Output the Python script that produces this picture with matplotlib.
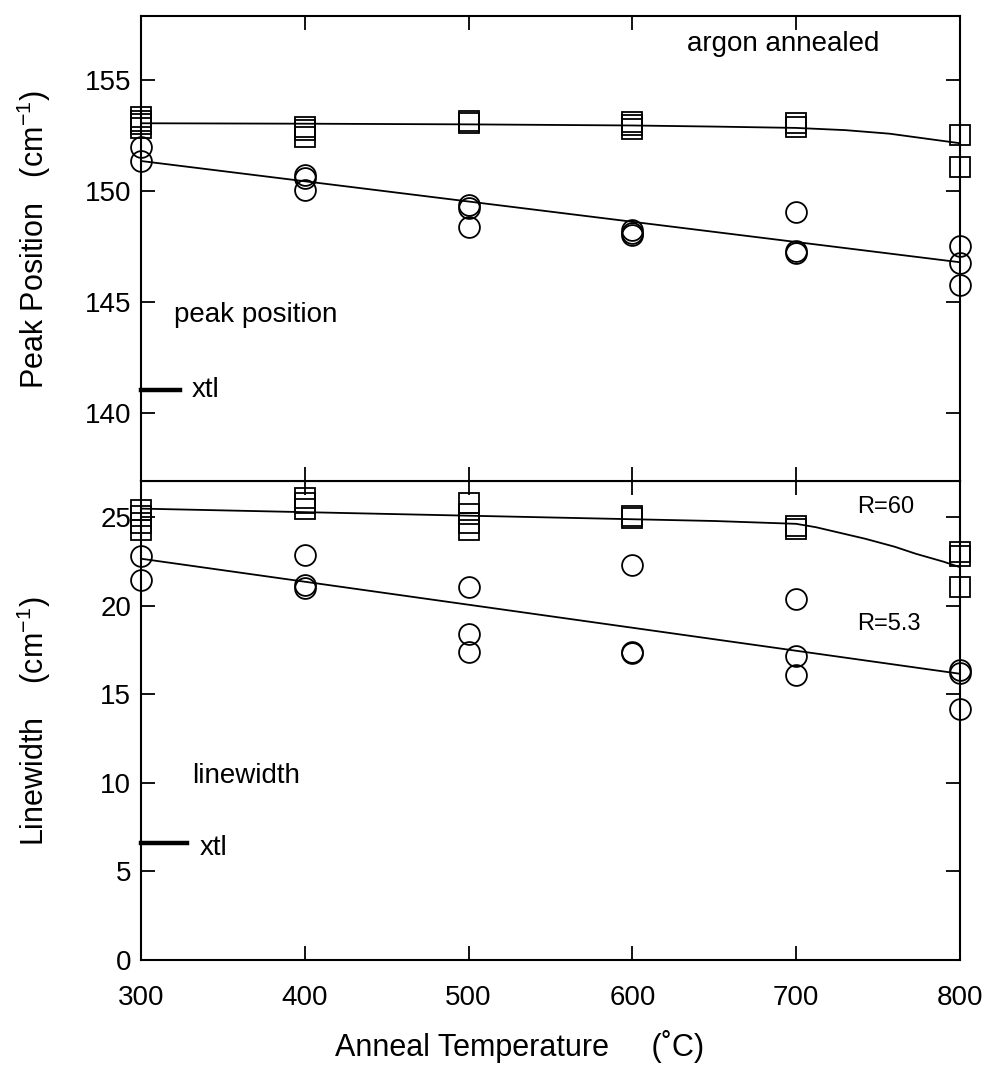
import matplotlib
matplotlib.use("Agg")
import matplotlib.pyplot as plt

plt.rcParams['font.family'] = ['Liberation Sans', 'DejaVu Sans']

# ---- data ----
temps = [300, 400, 500, 600, 700, 800]

# top panel: peak position (cm^-1)
peak_sq = {
    300: [153.35, 153.15, 153.0, 152.85],
    400: [152.9, 152.75, 152.45],
    500: [153.15, 153.05],
    600: [153.1, 152.95, 152.8],
    700: [153.05, 152.9],
    800: [152.52, 151.09],
}
peak_ci = {
    300: [151.98, 151.35],
    400: [150.7, 150.6, 150.05],
    500: [149.35, 149.25, 148.4],
    600: [148.25, 148.1, 148.0],
    700: [149.05, 147.3, 147.2],
    800: [147.52, 146.74, 145.77],
}
fit_peak_sq_x = [300, 400, 500, 600, 650, 700, 730, 757, 773, 793, 800]
fit_peak_sq_y = [153.05, 153.03, 153.0, 152.95, 152.9, 152.84, 152.74, 152.58, 152.42, 152.22, 152.15]
fit_peak_ci_x = [300, 800]
fit_peak_ci_y = [151.35, 146.79]

# bottom panel: linewidth (cm^-1)
lw_sq = {
    300: [25.43, 25.1, 24.68, 24.3],
    400: [26.1, 25.8, 25.45],
    500: [25.8, 25.2, 24.7, 24.3],
    600: [25.1, 24.95],
    700: [24.5, 24.35],
    800: [23.05, 22.85, 21.05],
}
lw_ci = {
    300: [22.85, 21.44],
    400: [22.9, 21.2, 21.0],
    500: [21.1, 18.4, 17.4],
    600: [22.3, 17.4, 17.35],
    700: [20.4, 17.2, 16.1],
    800: [16.4, 16.2, 14.2],
}
fit_lw_sq_x = [300, 400, 500, 600, 650, 700, 712, 742, 760, 773, 790, 800]
fit_lw_sq_y = [25.5, 25.3, 25.1, 24.9, 24.8, 24.64, 24.45, 23.8, 23.35, 22.95, 22.5, 22.19]
fit_lw_ci_x = [300, 800]
fit_lw_ci_y = [22.67, 16.17]

xtl_peak = 141.05
xtl_lw = 6.6
xticks = [300, 400, 500, 600, 700, 800]
peak_ticks = [140, 145, 150, 155]
lw_ticks = [0, 5, 10, 15, 20, 25]

# ---- figure ----
W, H = 991, 1079
fig = plt.figure(figsize=(W / 100, H / 100), dpi=100)
left = 141 / W
width = (960 - 141) / W
ax_bot = fig.add_axes([left, (H - 960) / H, width, (960 - 481) / H])
ax_top = fig.add_axes([left, (H - 481) / H, width, (481 - 16) / H], sharex=ax_bot)

ms = 15.0
mew = 1.3
TICK_FS = 20
LABEL_FS = 22
ANN_FS = 20


def scatter_groups(ax, groups, marker):
    for t, vals in groups.items():
        ax.plot([t] * len(vals), vals, linestyle='none', marker=marker, ms=ms,
                mfc='none', mec='black', mew=mew, clip_on=False, zorder=3)


for ax in (ax_top, ax_bot):
    ax.set_xlim(300, 800)
    ax.set_xticks(xticks)
    ax.tick_params(axis='both', which='both', direction='in', length=10, width=1.3,
                   top=True, right=True, labelsize=TICK_FS)
    ax.tick_params(axis='y', pad=7)
    for s in ax.spines.values():
        s.set_linewidth(1.5)

# top panel
ax_top.set_ylim(136.94, 157.88)
ax_top.set_yticks(peak_ticks)
scatter_groups(ax_top, peak_sq, 's')
scatter_groups(ax_top, peak_ci, 'o')
ax_top.plot(fit_peak_sq_x, fit_peak_sq_y, color='black', lw=1.3, zorder=2)
ax_top.plot(fit_peak_ci_x, fit_peak_ci_y, color='black', lw=1.3, zorder=2)
ax_top.plot([300, 324], [xtl_peak, xtl_peak], color='black', lw=3.2, clip_on=False)
ax_top.text(331, xtl_peak, 'xtl', fontsize=ANN_FS, va='center', ha='left')
ax_top.text(320, 144.4, 'peak position', fontsize=ANN_FS, va='center', ha='left')
ax_top.text(692, 156.6, 'argon annealed', fontsize=ANN_FS, va='center', ha='center')
ax_top.tick_params(axis='x', labelbottom=False)

# bottom panel
ax_bot.set_ylim(0, 27.06)
ax_bot.set_yticks(lw_ticks)
scatter_groups(ax_bot, lw_sq, 's')
scatter_groups(ax_bot, lw_ci, 'o')
ax_bot.plot(fit_lw_sq_x, fit_lw_sq_y, color='black', lw=1.3, zorder=2)
ax_bot.plot(fit_lw_ci_x, fit_lw_ci_y, color='black', lw=1.3, zorder=2)
ax_bot.plot([300, 328], [xtl_lw, xtl_lw], color='black', lw=3.2, clip_on=False)
ax_bot.text(336, xtl_lw - 0.3, 'xtl', fontsize=ANN_FS, va='center', ha='left')
ax_bot.text(331, 10.4, 'linewidth', fontsize=ANN_FS, va='center', ha='left')
ax_bot.text(737, 25.6, 'R=60', fontsize=17, va='center', ha='left')
ax_bot.text(737, 19.0, 'R=5.3', fontsize=17, va='center', ha='left')
ax_bot.tick_params(axis='x', pad=18)

# axis titles placed at their positions in the figure
fig.text(34 / W, 1 - 240 / H, 'Peak Position   (cm$^{\\mathregular{-1}}$)', fontsize=LABEL_FS,
         rotation=90, ha='center', va='center')
fig.text(34 / W, 1 - 721 / H, 'Linewidth    (cm$^{\\mathregular{-1}}$)', fontsize=LABEL_FS,
         rotation=90, ha='center', va='center')
fig.text(520 / W, 1 - 1046 / H, 'Anneal Temperature     (˚C)', fontsize=LABEL_FS,
         ha='center', va='center')

fig.savefig('out.png', dpi=100)
